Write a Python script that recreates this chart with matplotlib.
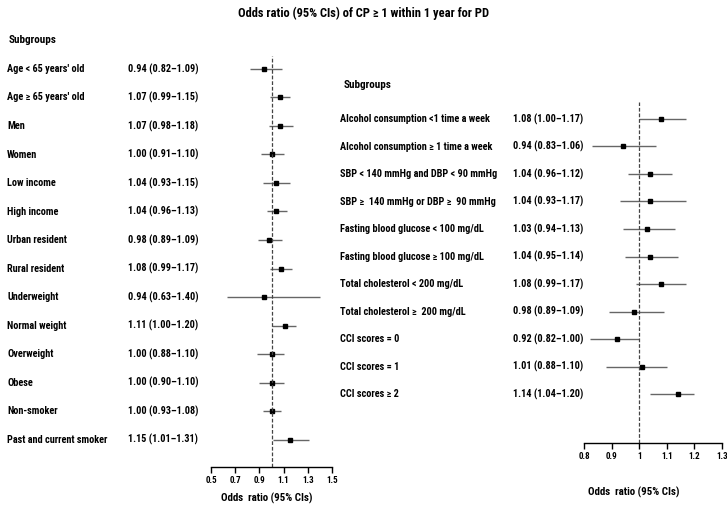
import matplotlib
matplotlib.use("Agg")
import matplotlib.pyplot as plt
from matplotlib.transforms import blended_transform_factory

plt.rcParams['font.family'] = ['Roboto Condensed', 'DejaVu Sans']
plt.rcParams['font.weight'] = 'bold'

# left panel data
left_labels = ["Age < 65 years' old", "Age \u2265 65 years' old", "Men", "Women",
               "Low income", "High income", "Urban resident", "Rural resident",
               "Underweight", "Normal weight", "Overweight", "Obese",
               "Non-smoker", "Past and current smoker"]
left_or = [0.94, 1.07, 1.07, 1.00, 1.04, 1.04, 0.98, 1.08, 0.94, 1.11, 1.00, 1.00, 1.00, 1.15]
left_lo = [0.82, 0.99, 0.98, 0.91, 0.93, 0.96, 0.89, 0.99, 0.63, 1.00, 0.88, 0.90, 0.93, 1.01]
left_hi = [1.09, 1.15, 1.18, 1.10, 1.15, 1.13, 1.09, 1.17, 1.40, 1.20, 1.10, 1.10, 1.08, 1.31]
left_ticks = [0.5, 0.7, 0.9, 1.1, 1.3, 1.5]

# right panel data
right_labels = ["Alcohol consumption <1 time a week", "Alcohol consumption \u2265 1 time a week",
                "SBP < 140 mmHg and DBP < 90 mmHg", "SBP \u2265  140 mmHg or DBP \u2265  90 mmHg",
                "Fasting blood glucose < 100 mg/dL", "Fasting blood glucose \u2265 100 mg/dL",
                "Total cholesterol < 200 mg/dL", "Total cholesterol \u2265  200 mg/dL",
                "CCI scores = 0", "CCI scores = 1", "CCI scores \u2265 2"]
right_or = [1.08, 0.94, 1.04, 1.04, 1.03, 1.04, 1.08, 0.98, 0.92, 1.01, 1.14]
right_lo = [1.00, 0.83, 0.96, 0.93, 0.94, 0.95, 0.99, 0.89, 0.82, 0.88, 1.04]
right_hi = [1.17, 1.06, 1.12, 1.17, 1.13, 1.14, 1.17, 1.09, 1.00, 1.10, 1.20]
right_ticks = [0.8, 0.9, 1, 1.1, 1.2, 1.3]

W, H = 727, 511
fig = plt.figure(figsize=(W / 100, H / 100), dpi=100)


def px_axes(x0, x1, y_top, y_bot):
    return fig.add_axes([x0 / W, 1 - y_bot / H, (x1 - x0) / W, (y_bot - y_top) / H])


def forest(ax, labels, ors, los, his, ticks, xlim, row0, step, y_top, y_bot,
           lab_x, val_x, tick_fmt):
    n = len(labels)
    ys = list(range(n))
    ax.set_xlim(*xlim)
    ax.set_ylim((y_bot - row0) / step, (y_top - row0) / step)
    ax.hlines(ys, los, his, color='#666666', lw=1.0)
    ax.plot(ors, ys, 's', color='black', ms=3.5)
    ax.axvline(1.0, color='#444444', lw=0.9, ls=(0, (3, 1.5)))
    for s in ['top', 'right', 'left']:
        ax.spines[s].set_visible(False)
    ax.spines['bottom'].set_linewidth(1.0)
    ax.set_yticks([])
    ax.set_xticks(ticks)
    ax.set_xticklabels(tick_fmt)
    ax.tick_params(axis='x', length=4, width=1.0, labelsize=6.5, pad=2.5)
    tr = blended_transform_factory(fig.transFigure, ax.transData)
    for i in range(n):
        ax.text(lab_x / W, i, labels[i], transform=tr, fontsize=7.4, va='center',
                ha='left', clip_on=False)
        ax.text(val_x / W, i, "%.2f (%.2f\u2013%.2f)" % (ors[i], los[i], his[i]),
                transform=tr, fontsize=7.4, va='center', ha='left', clip_on=False)


axL = px_axes(211, 332, 56, 467)
forest(axL, left_labels, left_or, left_lo, left_hi, left_ticks, (0.5, 1.5),
       69, 28.5, 56, 467, 7, 128, ["0.5", "0.7", "0.9", "1.1", "1.3", "1.5"])

axR = px_axes(584, 722, 102, 443)
forest(axR, right_labels, right_or, right_lo, right_hi, right_ticks, (0.8, 1.3),
       119, 27.5, 102, 443, 340, 513, ["0.8", "0.9", "1", "1.1", "1.2", "1.3"])

fig.text(364 / W, 1 - 13 / H, "Odds ratio (95% CIs) of CP \u2265 1 within 1 year for PD",
         ha='center', va='center', fontsize=9)
fig.text(9 / W, 1 - 40 / H, "Subgroups", ha='left', va='center', fontsize=8)
fig.text(344 / W, 1 - 85 / H, "Subgroups", ha='left', va='center', fontsize=8)
fig.text(267 / W, 1 - 498 / H, "Odds  ratio (95% CIs)", ha='center', va='center', fontsize=7.8)
fig.text(634 / W, 1 - 492 / H, "Odds  ratio (95% CIs)", ha='center', va='center', fontsize=7.8)

fig.savefig("out.png", dpi=100)
